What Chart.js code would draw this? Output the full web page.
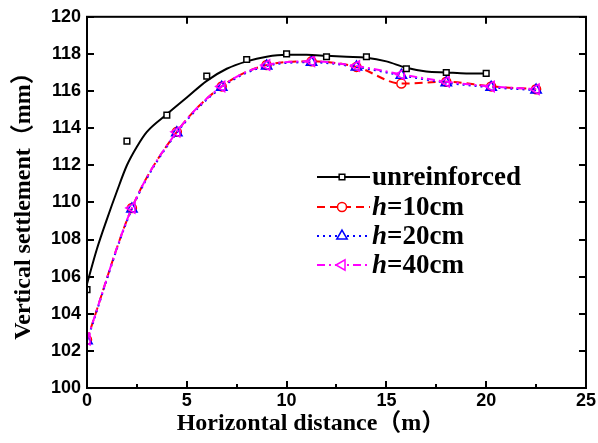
<!DOCTYPE html>
<html><head><meta charset="utf-8">
<script src="https://cdn.jsdelivr.net/npm/chart.js@4.4.0/dist/chart.umd.min.js"></script>
<style>html,body{margin:0;padding:0;background:#fff}#wrap{width:598px;height:443px}</style>
</head><body><div id="wrap"><canvas id="c" width="598" height="443"></canvas></div>
<script>
// ---- data ----
const xUnreinforced = [0, 2, 4, 6, 8, 10, 12, 14, 16, 18, 20];
const yUnreinforced = [105.3, 113.3, 114.7, 116.8, 117.7, 118.0, 117.85, 117.85, 117.2, 117.0, 116.95];
// fitted (smoothed) curve drawn through the unreinforced data
const xFitUnreinforced = [0, 0.5, 1, 1.5, 2, 2.5, 3, 4, 5, 6, 7, 8, 9, 10, 11, 12, 13, 14, 15, 16, 17, 18, 19, 20];
const yFitUnreinforced = [105.6, 107.5, 109.1, 110.6, 112.0, 113.0, 113.8, 114.75, 115.65, 116.55, 117.2, 117.6, 117.85, 117.95, 117.95, 117.9, 117.85, 117.8, 117.6, 117.25, 117.05, 117.0, 116.95, 116.95];
const xReinforced = [0, 2.25, 4.5, 6.75, 9, 11.25, 13.5, 15.75, 18, 20.25, 22.5];
const yH10 = [102.6, 109.7, 113.8, 116.25, 117.4, 117.6, 117.3, 116.4, 116.5, 116.25, 116.1];
const yH20 = [102.55, 109.65, 113.75, 116.2, 117.35, 117.55, 117.3, 116.85, 116.45, 116.2, 116.05];
const yH40 = [102.6, 109.7, 113.8, 116.25, 117.4, 117.6, 117.35, 116.9, 116.5, 116.25, 116.1];
const seriesNames = ['unreinforced', 'h=10cm', 'h=20cm', 'h=40cm'];
const xRange = [0, 25], xStep = 5;
const yRange = [100, 120], yStep = 2;
const xTitle = 'Horizontal distance（m）';
const yTitle = 'Vertical settlement（mm）';

const pts = (xs, ys) => xs.map((x, i) => ({x, y: ys[i]}));
const serif = '"Liberation Serif", "Times New Roman", "Noto Sans CJK SC", serif';
const sans = '"Liberation Sans", Arial, sans-serif';

const styles = [
  {color: '#000000', dash: [], pointStyle: 'rect', radius: 4, rotation: 0, fill: '#ffffff'},
  {color: '#ff0000', dash: [8, 5], pointStyle: 'circle', radius: 4.5, rotation: 0, fill: 'rgba(0,0,0,0)'},
  {color: '#0000ff', dash: [2, 4], pointStyle: 'triangle', radius: 6, rotation: 0, fill: 'rgba(0,0,0,0)'},
  {color: '#ff00ff', dash: [8, 4, 2, 4], pointStyle: 'triangle', radius: 6, rotation: 270, fill: 'rgba(0,0,0,0)'}
];

function lineDs(label, data, s) {
  return {label, data, showLine: true, borderColor: s.color, borderWidth: 2, borderDash: s.dash,
    cubicInterpolationMode: 'monotone', pointStyle: s.pointStyle, pointRadius: s.radius, pointRotation: s.rotation,
    pointBorderColor: s.color, pointBackgroundColor: s.fill, pointBorderWidth: 1.5, pointHoverRadius: s.radius};
}

const datasets = [
  {label: seriesNames[0], data: pts(xUnreinforced, yUnreinforced), showLine: false, pointStyle: 'rect',
   pointRadius: 4, pointBorderColor: '#000', pointBackgroundColor: '#fff', pointBorderWidth: 1.5},
  {label: seriesNames[0] + ' fit', data: pts(xFitUnreinforced, yFitUnreinforced), showLine: true,
   borderColor: '#000', borderWidth: 2, cubicInterpolationMode: 'monotone', pointRadius: 0},
  lineDs(seriesNames[3], pts(xReinforced, yH40), styles[3]),
  lineDs(seriesNames[2], pts(xReinforced, yH20), styles[2]),
  lineDs(seriesNames[1], pts(xReinforced, yH10), styles[1])
];

const framePlugin = {
  id: 'frame',
  afterDatasetsDraw(chart) {
    const {ctx, chartArea: a, scales} = chart;
    const xs = scales.x, ys = scales.y;
    ctx.save();
    ctx.strokeStyle = '#000';
    ctx.lineWidth = 2;
    ctx.setLineDash([]);
    ctx.strokeRect(a.left, a.top, a.right - a.left, a.bottom - a.top);
    ctx.beginPath();
    for (let v = xRange[0]; v <= xRange[1] + 1e-9; v += xStep / 2) {
      const px = Math.round(xs.getPixelForValue(v));
      const major = Math.abs(v / xStep - Math.round(v / xStep)) < 1e-6;
      const len = major ? 7 : 4;
      ctx.moveTo(px, a.bottom); ctx.lineTo(px, a.bottom - len);
      if (major) { ctx.moveTo(px, a.top); ctx.lineTo(px, a.top + len); }
    }
    for (let v = yRange[0]; v <= yRange[1] + 1e-9; v += yStep) {
      const py = Math.round(ys.getPixelForValue(v));
      ctx.moveTo(a.left, py); ctx.lineTo(a.left + 7, py);
      ctx.moveTo(a.right, py); ctx.lineTo(a.right - 7, py);
    }
    ctx.stroke();

    // legend
    const rows = [177, 207, 236, 265];
    rows.forEach((ry, i) => {
      const s = styles[i];
      ctx.save();
      ctx.strokeStyle = s.color; ctx.lineWidth = 2; ctx.setLineDash(s.dash);
      ctx.beginPath(); ctx.moveTo(317, ry); ctx.lineTo(370, ry); ctx.stroke();
      ctx.setLineDash([]);
      ctx.lineWidth = 1.5; ctx.fillStyle = '#fff';
      ctx.strokeStyle = s.color;
      Chart.helpers.drawPoint(ctx, {pointStyle: s.pointStyle, radius: s.radius, rotation: s.rotation, borderWidth: 1.5}, 342, ry);
      ctx.restore();
      ctx.fillStyle = '#000';
      ctx.textBaseline = 'middle';
      ctx.textAlign = 'left';
      const name = seriesNames[i];
      const ty = ry + 1;
      if (name.startsWith('h=')) {
        ctx.font = 'italic bold 27px ' + serif;
        ctx.fillText('h', 372, ty);
        const w = ctx.measureText('h').width;
        ctx.font = 'bold 27px ' + serif;
        ctx.fillText(name.slice(1), 372 + w, ty);
      } else {
        ctx.font = 'bold 27px ' + serif;
        ctx.fillText(name, 372, ty);
      }
    });

    // axis titles
    ctx.fillStyle = '#000';
    ctx.font = 'bold 24px ' + serif;
    ctx.textBaseline = 'middle';
    ctx.textAlign = 'center';
    ctx.fillText(xTitle, 311, 424);
    ctx.save();
    ctx.translate(24, 200);
    ctx.rotate(-Math.PI / 2);
    ctx.fillText(yTitle, 0, 0);
    ctx.restore();
    ctx.restore();
  }
};

new Chart(document.getElementById('c'), {
  type: 'scatter',
  data: {datasets},
  options: {
    responsive: false,
    animation: false,
    devicePixelRatio: 1,
    layout: {padding: {top: 16, right: 9, left: 0, bottom: 0}},
    plugins: {legend: {display: false}, tooltip: {enabled: false}},
    scales: {
      x: {
        type: 'linear', min: xRange[0], max: xRange[1],
        grid: {display: false, drawTicks: false}, border: {display: false},
        ticks: {stepSize: xStep, color: '#000', font: {family: sans, size: 18, weight: 'bold'}, padding: 2, maxRotation: 0},
        afterFit(s) { s.height = 55; }
      },
      y: {
        type: 'linear', min: yRange[0], max: yRange[1],
        grid: {display: false, drawTicks: false}, border: {display: false},
        ticks: {stepSize: yStep, color: '#000', font: {family: sans, size: 18, weight: 'bold'}, padding: 6},
        afterFit(s) { s.width = 87; }
      }
    }
  },
  plugins: [framePlugin]
});
</script>
</body></html>
